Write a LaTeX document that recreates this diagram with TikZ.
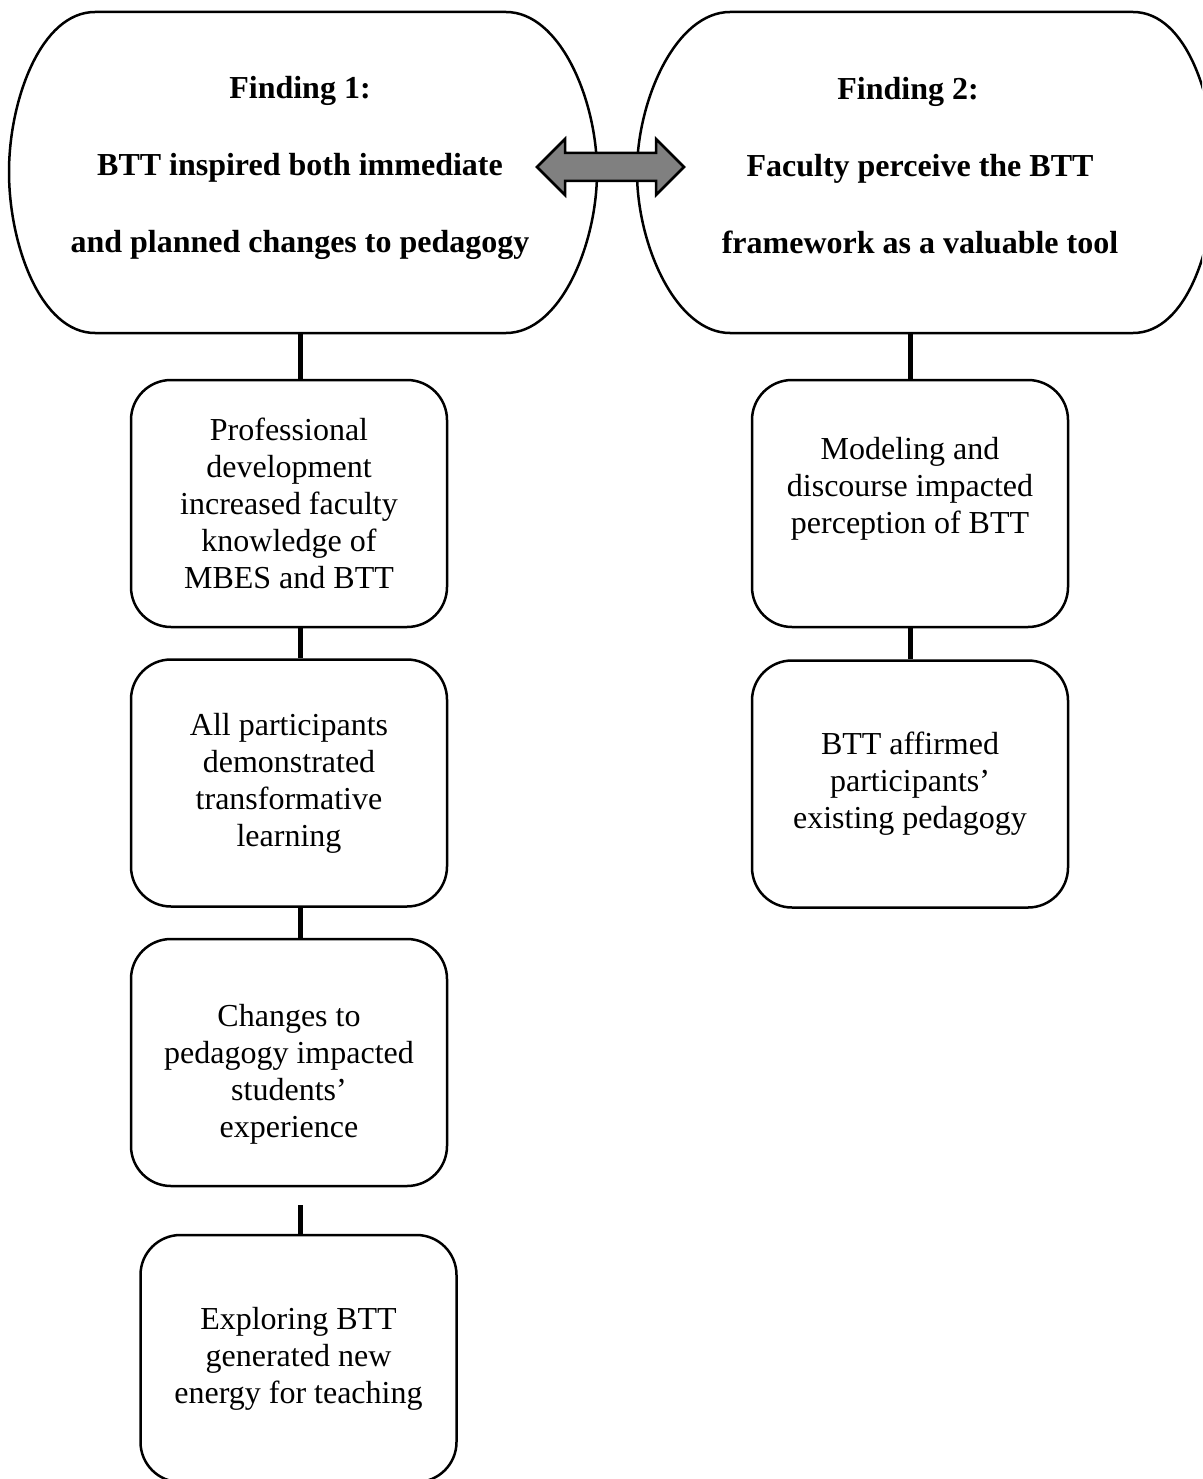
\documentclass[tikz,border=0pt]{standalone}
\usepackage{fontspec}
\setmainfont{Liberation Serif}
\definecolor{arrowgray}{RGB}{128,128,128}
\begin{document}
\begin{tikzpicture}[x=1pt,y=-1pt,
  box/.style={draw, line width=2.5pt, rounded corners=40pt, minimum width=316pt,
    minimum height=247pt, inner sep=0pt, align=center, fill=white,
    font=\fontsize{32}{37}\selectfont},
  link/.style={line width=5pt},
  title/.style={align=center, inner sep=0pt, font=\fontsize{32}{77}\selectfont\bfseries},
  shell/.style={draw, line width=2.5pt, fill=white},
  blockarrow/.style={draw, line width=2.5pt, fill=arrowgray, line join=miter}]
\useasboundingbox (0,0) rectangle (1202,1479);
\clip (0,0) rectangle (1202,1479);

% top finding shapes
\draw[shell] (95,12) -- (506,12)
  .. controls (560,12) and (597,100) .. (597,172)
  .. controls (597,245) and (560,333) .. (506,333) -- (95,333)
  .. controls (41,333) and (9,245) .. (9,172)
  .. controls (9,100) and (41,12) .. (95,12) -- cycle;
\draw[shell] (730,12) -- (1133,12)
  .. controls (1187,12) and (1215,100) .. (1215,172)
  .. controls (1215,245) and (1187,333) .. (1133,333) -- (730,333)
  .. controls (676,333) and (637,245) .. (637,172)
  .. controls (637,100) and (676,12) .. (730,12) -- cycle;

\node[title] (f1) at (300,168) {Finding 1:\\BTT inspired both immediate\\and planned changes to pedagogy};
\node[title] (f2) at (920,166) {Finding 2:\hspace*{24pt}\\Faculty perceive the BTT\\framework as a valuable tool};

% double block arrow between the findings
\coordinate (ac) at (610.5,167);
\draw[blockarrow, shift={(ac)}] (-73.5,0) -- (-45.5,-28) -- (-45.5,-14) -- (45.5,-14)
  -- (45.5,-28) -- (73.5,0) -- (45.5,28) -- (45.5,14) -- (-45.5,14) -- (-45.5,28) -- cycle;

% left column
\coordinate (f1b) at (300,333);
\coordinate (l4t) at (300,1205);
\node[box] (l1) at (289,503.5) {Professional\\development\\increased faculty\\knowledge of\\MBES and BTT};
\node[box] (l2) at (289,783) {All participants\\demonstrated\\transformative\\learning};
\node[box] (l3) at (289,1062.5) {\mbox{}\\[8pt]Changes to\\pedagogy impacted\\students’\\experience};
\node[box] (l4) at (298.5,1358.5) {Exploring BTT\\generated new\\energy for teaching};

% right column
\coordinate (f2b) at (910,333);
\node[box] (r1) at (910,503.5) {Modeling and\\discourse impacted\\perception of BTT\\\mbox{}};
\node[box] (r2) at (910,784) {BTT affirmed\\participants’\\existing pedagogy};

% connectors
\draw[link] (f1b) -- (f1b |- l1.north);
\draw[link] (l1.south -| f1b) -- (l2.north -| f1b);
\draw[link] (l2.south -| f1b) -- (l3.north -| f1b);
\draw[link] (l4t) -- (l4t |- l4.north);
\draw[link] (f2b) -- (r1.north);
\draw[link] (r1.south) -- (r2.north);
\end{tikzpicture}
\end{document}
